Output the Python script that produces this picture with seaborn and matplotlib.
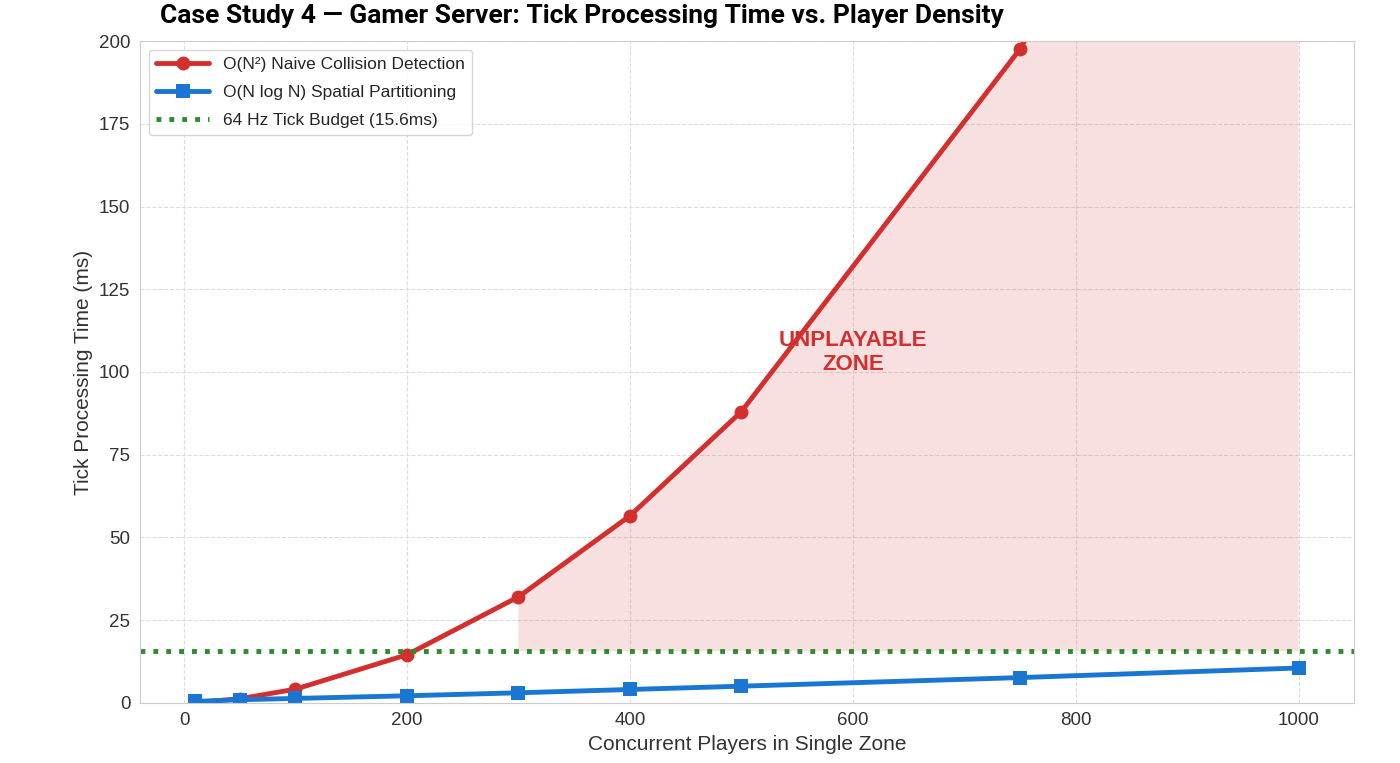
import matplotlib
matplotlib.use("Agg")
import matplotlib.pyplot as plt
import numpy as np
import seaborn as sns

# Data
players = [10, 50, 100, 200, 300, 400, 500, 750, 1000]
naive_ms = [0.05, 1.2, 4.1, 14.5, 32.0, 56.5, 88.0, 197.6, 351.0]
spatial_ms = [0.4, 0.9, 1.3, 2.1, 3.0, 4.0, 5.0, 7.6, 10.5]
tick_budget = 15.6
zone_start = 300

sns.set_style("whitegrid", {"grid.linestyle": "--", "axes.edgecolor": "#cccccc"})
plt.rcParams["font.family"] = ["Liberation Sans", "DejaVu Sans"]

fig, ax = plt.subplots(figsize=(14, 7.63), dpi=100)
fig.subplots_adjust(left=0.1, right=0.967, top=0.946, bottom=0.079)

red = "#d32f2f"
blue = "#1976d2"
green = "#2e8b2e"

sns.lineplot(x=players, y=naive_ms, ax=ax, color=red, linewidth=3.5,
             marker="o", markersize=10, markeredgewidth=0,
             label="O(N²) Naive Collision Detection")
sns.lineplot(x=players, y=spatial_ms, ax=ax, color=blue, linewidth=3.5,
             marker="s", markersize=10, markeredgewidth=0,
             label="O(N log N) Spatial Partitioning")
ax.axhline(tick_budget, color=green, linestyle=":", linewidth=3.5,
           label="64 Hz Tick Budget (15.6ms)")

# shaded unplayable region
px = np.array(players)
nv = np.array(naive_ms)
mask = px >= zone_start
ax.fill_between(px[mask], tick_budget, nv[mask], color=red, alpha=0.15, linewidth=0)
ax.text(600, 106, "UNPLAYABLE\nZONE", color=red, fontsize=16, fontweight="bold",
        ha="center", va="center")

ax.set_ylim(0, 200)
ax.set_yticks(np.arange(0, 201, 25))
ax.set_xticks(np.arange(0, 1001, 200))
ax.tick_params(labelsize=13.5, colors="#333333")
ax.set_xlabel("Concurrent Players in Single Zone", fontsize=15, color="#333333")
ax.set_ylabel("Tick Processing Time (ms)", fontsize=15, color="#333333")
ax.grid(True, color="#dddddd", linestyle="--")

leg = ax.legend(loc="upper left", fontsize=12.5, frameon=True,
                handlelength=3.1, labelspacing=0.75)
leg.get_frame().set_edgecolor("#cccccc")

fig.text(160 / 1400, 1 - 16 / 763, "Case Study 4 — Gamer Server: Tick Processing Time vs. Player Density",
         fontsize=19, fontweight="bold", family=["Roboto", "DejaVu Sans"],
         color="black", ha="left", va="center")

fig.savefig("out.png", dpi=100)
